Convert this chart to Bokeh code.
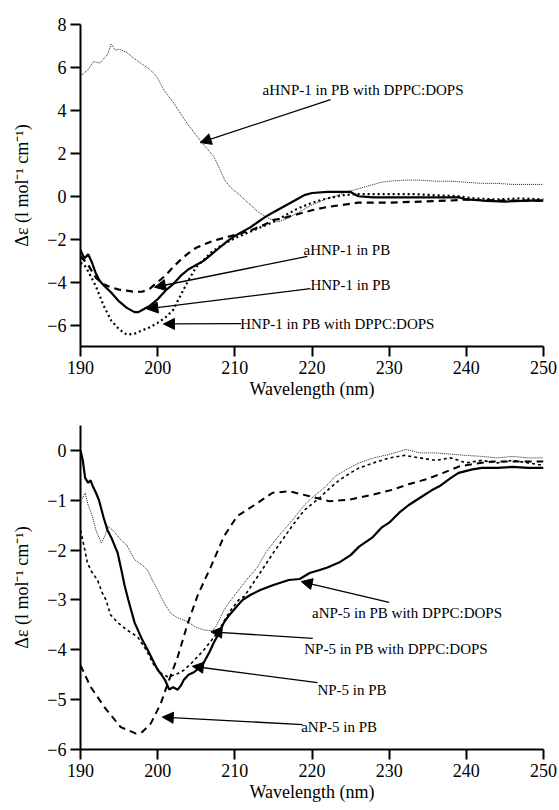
from bokeh.plotting import figure
from bokeh.layouts import column
from bokeh.models import Range1d, FixedTicker, Arrow, NormalHead, Label
from bokeh.embed import file_html
from bokeh.resources import INLINE

FONT = "Liberation Serif"

# ---------------- Top panel: HNP-1 ----------------
wl_ahnp1_lip = [190, 191, 191.7, 192.5, 193, 193.5, 194, 194.5, 195, 196, 197, 197.8, 199, 199.9, 200.8,
                202.1, 203.8, 205.5, 207.3, 208.7, 209.4, 210.9, 213, 214.5, 215.6, 216, 217, 218, 219,
                220, 221, 222, 223, 224, 225, 226, 227, 228, 229, 230, 232, 234, 236, 238, 240, 242,
                244, 246, 248, 250]
de_ahnp1_lip = [5.6, 5.9, 6.28, 6.2, 6.4, 6.6, 7.1, 6.8, 6.85, 6.7, 6.4, 6.2, 5.9, 5.57, 4.95,
                4.33, 3.4, 2.6, 1.84, 0.75, 0.43, -0.03, -0.73, -1.05, -1.2, -1.15, -1.0, -0.8, -0.6,
                -0.4, -0.25, -0.1, 0.0, 0.15, 0.25, 0.35, 0.45, 0.55, 0.65, 0.7, 0.75, 0.75, 0.7, 0.7,
                0.65, 0.6, 0.6, 0.55, 0.55, 0.55]

wl_hnp1 = [190, 190.5, 191, 191.5, 192, 192.5, 193, 194, 195, 196, 197, 197.5, 198, 199, 200, 201,
           202, 203, 204, 205, 206, 207, 208, 209, 210, 211, 212, 213, 214, 215, 216, 217, 218, 219,
           220, 222, 224, 225, 226, 228, 230, 235, 239, 240, 242, 245, 248, 250]
de_hnp1 = [-2.5, -2.9, -2.7, -3.1, -3.6, -3.95, -4.15, -4.5, -4.9, -5.2, -5.4, -5.4, -5.3, -5.1, -4.8,
           -4.4, -4.1, -3.7, -3.4, -3.2, -3.0, -2.7, -2.4, -2.1, -1.85, -1.65, -1.45, -1.2, -0.95,
           -0.75, -0.55, -0.35, -0.15, 0.05, 0.15, 0.2, 0.2, 0.2, 0.0, -0.05, -0.05, -0.05, -0.05,
           -0.15, -0.2, -0.25, -0.2, -0.2]

wl_ahnp1 = [190, 191, 192, 193, 194, 195, 196, 197, 198, 199, 200, 201, 202, 203, 204, 205, 206, 207,
            208, 209, 210, 211, 212, 213, 214, 215, 216, 218, 220, 222, 224, 226, 228, 230, 234, 238,
            240, 244, 250]
de_ahnp1 = [-2.8, -3.2, -3.8, -4.1, -4.25, -4.35, -4.4, -4.45, -4.45, -4.3, -4.0, -3.7, -3.3, -2.95,
            -2.65, -2.4, -2.25, -2.1, -2.0, -1.9, -1.8, -1.7, -1.6, -1.45, -1.3, -1.1, -1.05, -0.85,
            -0.65, -0.5, -0.4, -0.3, -0.3, -0.3, -0.25, -0.2, -0.15, -0.2, -0.2]

wl_hnp1_lip = [190, 190.5, 191, 192, 193, 194, 195, 196, 197, 198, 199, 200, 201, 202, 203, 204, 205,
               206, 207, 208, 209, 210, 211, 212, 213, 214, 215, 216, 217, 218, 219, 220, 221, 222,
               224, 226, 228, 230, 233, 236, 239, 241, 244, 247, 250]
de_hnp1_lip = [-3.1, -3.2, -3.5, -4.2, -5.1, -5.8, -6.2, -6.45, -6.4, -6.25, -6.1, -5.9, -5.65, -5.3,
               -4.6, -3.9, -3.3, -2.95, -2.6, -2.35, -2.15, -1.95, -1.8, -1.65, -1.5, -1.35, -1.2,
               -1.0, -0.8, -0.6, -0.45, -0.3, -0.2, -0.1, 0.05, 0.1, 0.1, 0.1, 0.1, 0.05, 0.0, -0.1,
               -0.15, -0.1, -0.15]

# ---------------- Bottom panel: NP-5 ----------------
wl_anp5_lip = [190, 190.3, 190.6, 191, 191.3, 191.6, 192, 192.4, 193, 193.5, 194, 194.8, 195.3, 195.7,
               196.2, 197, 198, 198.7, 199.5, 200, 200.5, 201, 201.5, 202, 202.6, 203, 203.4, 204,
               204.7, 205.5, 206, 206.7, 207.3, 208, 208.6, 209.3, 210.3, 211, 212, 213.3, 215, 217,
               218.4, 219.7, 221, 222, 223.5, 225, 226.1, 227.8, 229, 230, 231.3, 232.5, 234, 235.5,
               236.5, 238, 239, 240.8, 242, 244, 246, 248, 250]
de_anp5_lip = [0.0, -0.2, -0.55, -0.65, -0.6, -0.72, -0.85, -1.0, -1.35, -1.6, -1.75, -2.05, -2.4,
               -2.7, -3.0, -3.45, -3.8, -4.0, -4.25, -4.4, -4.5, -4.62, -4.8, -4.75, -4.8, -4.72,
               -4.6, -4.5, -4.45, -4.35, -4.25, -4.05, -3.85, -3.65, -3.45, -3.3, -3.12, -3.0, -2.9,
               -2.8, -2.7, -2.6, -2.58, -2.46, -2.4, -2.35, -2.25, -2.1, -1.93, -1.75, -1.55, -1.45,
               -1.25, -1.1, -0.95, -0.8, -0.72, -0.55, -0.45, -0.38, -0.35, -0.35, -0.33, -0.35, -0.35]

wl_np5_lip = [190, 190.3, 190.6, 191, 191.5, 192, 192.7, 193.2, 193.5, 194.2, 195.2, 196, 197, 198,
              198.7, 199.3, 200, 200.4, 201, 201.7, 202.5, 203.9, 205, 206, 207, 207.5, 208.6, 209.5,
              210.5, 211.5, 212.9, 214, 215.5, 217.5, 219, 220, 221.8, 223, 224.5, 226.1, 228, 230,
              232.2, 234, 236, 238.4, 240, 242, 244, 246, 248, 250]
de_np5_lip = [-0.99, -0.95, -0.85, -1.1, -1.3, -1.6, -1.86, -1.7, -1.52, -1.6, -1.79, -1.9, -2.19,
              -2.3, -2.4, -2.6, -2.8, -2.93, -3.1, -3.27, -3.35, -3.44, -3.55, -3.6, -3.62, -3.55,
              -3.2, -3.0, -2.8, -2.6, -2.35, -2.05, -1.75, -1.39, -1.1, -0.95, -0.72, -0.52, -0.38,
              -0.25, -0.15, -0.08, 0.02, -0.05, -0.05, -0.08, -0.1, -0.12, -0.15, -0.12, -0.15, -0.15]

wl_np5 = [190, 190.5, 190.9, 191.5, 192.2, 192.8, 193.3, 193.9, 194.8, 196, 197.4, 198.5, 199.5,
          200.5, 201.3, 202.3, 203.4, 204.5, 206, 207.7, 208.5, 209.5, 210.5, 211.2, 212, 213.3, 215,
          217.5, 219, 221, 222, 223.5, 225, 226.1, 228, 230, 232, 234, 236, 238, 240, 242, 244, 246,
          248, 250]
de_np5 = [-1.6, -1.95, -2.26, -2.45, -2.6, -2.85, -3.0, -3.3, -3.45, -3.6, -3.74, -4.0, -4.3, -4.48,
          -4.54, -4.5, -4.41, -4.25, -4.0, -3.67, -3.45, -3.2, -3.0, -2.93, -2.75, -2.45, -2.05,
          -1.5, -1.2, -0.95, -0.8, -0.6, -0.45, -0.35, -0.25, -0.15, -0.1, -0.15, -0.2, -0.15, -0.25,
          -0.2, -0.25, -0.2, -0.25, -0.3]

wl_anp5 = [190, 191.3, 193.1, 195.2, 197.2, 198, 199.1, 200.4, 201.3, 202.6, 203.9, 205.2, 206.9,
           208.6, 210.3, 212.5, 214.9, 217.1, 219.7, 222.3, 224.8, 227.8, 230.4, 232.5, 234.8, 237,
           239.1, 241, 243.4, 246, 250]
de_anp5 = [-4.31, -4.74, -5.15, -5.55, -5.68, -5.65, -5.48, -5.08, -4.68, -4.14, -3.47, -2.9, -2.33,
           -1.72, -1.32, -1.1, -0.85, -0.82, -0.92, -1.02, -0.99, -0.89, -0.79, -0.68, -0.58, -0.45,
           -0.32, -0.27, -0.22, -0.22, -0.22]

x_ticks = [190, 200, 210, 220, 230, 240, 250]
y_ticks_top = [-6, -4, -2, 0, 2, 4, 6, 8]
y_ticks_bottom = [-6, -5, -4, -3, -2, -1, 0]

# annotation specs: text, text anchor (x, y), arrow start (x, y), arrow tip (x, y)
notes_top = [
    ("aHNP-1 in PB with DPPC:DOPS", 213.6, 4.95, 222.4, 4.5, 205.5, 2.5),
    ("aHNP-1 in PB", 218.9, -2.5, 219.4, -2.8, 199.6, -4.24),
    ("HNP-1 in PB", 219.8, -4.15, 219.8, -4.3, 198.6, -5.25),
    ("HNP-1 in PB with DPPC:DOPS", 210.7, -5.93, 210.8, -5.93, 200.75, -5.95),
]
notes_bottom = [
    ("aNP-5 in PB with DPPC:DOPS", 220.0, -3.26, 230.0, -3.05, 218.6, -2.63),
    ("NP-5 in PB with DPPC:DOPS", 219.0, -3.99, 220.1, -3.77, 206.9, -3.64),
    ("NP-5 in PB", 220.7, -4.8, 220.7, -4.66, 204.5, -4.33),
    ("aNP-5 in PB", 218.6, -5.55, 218.8, -5.5, 200.6, -5.35),
]

YLABEL = "\u0394\u03b5 (l mol\u207b\u00b9 cm\u207b\u00b9)"


def style(p, yticks):
    p.outline_line_color = None
    p.xgrid.visible = False
    p.ygrid.visible = False
    p.xaxis.ticker = FixedTicker(ticks=x_ticks)
    p.yaxis.ticker = FixedTicker(ticks=yticks)
    p.xaxis.axis_label = "Wavelength (nm)"
    p.yaxis.axis_label = YLABEL
    p.axis.major_label_text_font = FONT
    p.axis.axis_label_text_font = FONT
    p.axis.major_label_text_font_size = "18px"
    p.axis.axis_label_text_font_size = "18px"
    p.axis.axis_label_text_font_style = "normal"
    p.axis.axis_line_width = 2
    p.axis.major_tick_line_width = 2
    p.axis.major_tick_out = 10
    p.axis.major_tick_in = 0
    p.axis.minor_tick_line_color = None
    p.axis.major_label_standoff = 4
    p.axis.major_label_text_color = "black"
    p.axis.axis_label_text_color = "black"
    p.axis.axis_line_color = "black"
    p.axis.major_tick_line_color = "black"
    p.xaxis.axis_label_standoff = 2
    p.yaxis.axis_label_standoff = 12


def annotate(p, notes):
    for text, tx, ty, sx, sy, ex, ey in notes:
        p.add_layout(Arrow(end=NormalHead(size=11, fill_color="black", line_color="black"),
                           x_start=sx, y_start=sy, x_end=ex, y_end=ey,
                           line_color="black", line_width=1.3))
        p.add_layout(Label(x=tx, y=ty, text=text, text_font=FONT, text_font_size="15px",
                           text_baseline="middle", text_align="left", text_color="black"))


p1 = figure(width=557, height=402, output_backend="svg", toolbar_location=None,
            x_range=Range1d(190, 250), y_range=Range1d(-7, 8),
            min_border_left=80, min_border_right=14, min_border_top=24, min_border_bottom=56)
style(p1, y_ticks_top)
p1.line(wl_ahnp1_lip, de_ahnp1_lip, line_color="#222222", line_width=1, line_dash="1 1")
p1.line(wl_hnp1, de_hnp1, line_color="black", line_width=2.2)
p1.line(wl_ahnp1, de_ahnp1, line_color="black", line_width=2.2, line_dash="7 5")
p1.line(wl_hnp1_lip, de_hnp1_lip, line_color="black", line_width=2.2, line_dash="2 3")
annotate(p1, notes_top)

p2 = figure(width=557, height=406, output_backend="svg", toolbar_location=None,
            x_range=Range1d(190, 250), y_range=Range1d(-6, 0.5),
            min_border_left=80, min_border_right=14, min_border_top=23, min_border_bottom=59)
style(p2, y_ticks_bottom)
p2.line(wl_np5_lip, de_np5_lip, line_color="#222222", line_width=1, line_dash="1 1")
p2.line(wl_np5, de_np5, line_color="black", line_width=1.6, line_dash="3 3")
p2.line(wl_anp5_lip, de_anp5_lip, line_color="black", line_width=2.2)
p2.line(wl_anp5, de_anp5, line_color="black", line_width=2.0, line_dash="7 5")
annotate(p2, notes_bottom)

layout = column(p1, p2)
open("out.html", "w").write(file_html(layout, INLINE))
